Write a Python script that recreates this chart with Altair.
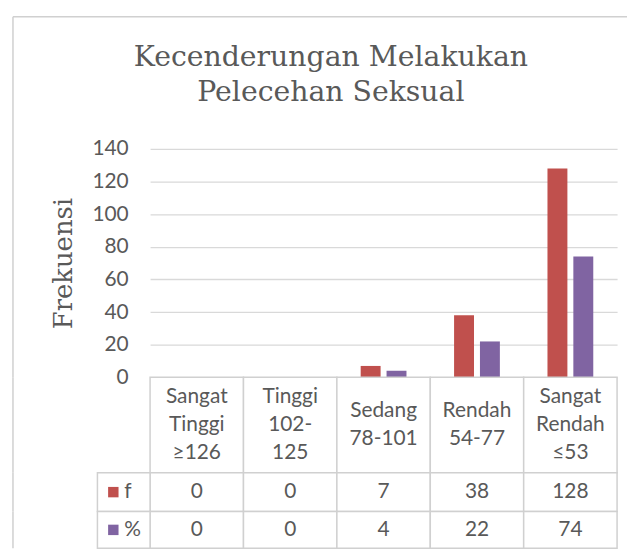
import altair as alt
import pandas as pd

# ---- data ----
categories = ["Sangat Tinggi ≥126", "Tinggi 102-125", "Sedang 78-101",
              "Rendah 54-77", "Sangat Rendah ≤53"]
header_lines = ["Sangat\nTinggi\n≥126", "Tinggi\n102-\n125", "Sedang\n78-101",
                "Rendah\n54-77", "Sangat\nRendah\n≤53"]
series = ["f", "%"]
f_values = [0, 0, 7, 38, 128]
pct_values = [0, 0, 4, 22, 74]
y_ticks = [0, 20, 40, 60, 80, 100, 120, 140]
colors = ["#C0504D", "#8064A2"]

TEXT = "#595959"
GRID = "#d9d9d9"
LINE = "#d0d0d0"
W = 470
FRAME_X = -138
LH = 28

x_scale = alt.Scale(domain=categories, paddingInner=0, paddingOuter=0)
color_scale = alt.Scale(domain=series, range=colors)

bars_df = pd.DataFrame({
    "cat": categories * 2,
    "series": [series[0]] * len(categories) + [series[1]] * len(categories),
    "value": f_values + pct_values,
})


def frame_left(h, top=0):
    return alt.Chart(pd.DataFrame({"k": [0]})).mark_rule(color=LINE, strokeWidth=1.5).encode(
        x=alt.value(FRAME_X), y=alt.value(top), y2=alt.value(h))


base = alt.Chart(bars_df)
bars = base.mark_bar().encode(
    x=alt.X("cat:N", scale=x_scale, axis=None, sort=categories),
    xOffset=alt.XOffset("series:N", sort=series,
                        scale=alt.Scale(domain=series, paddingInner=0.23, paddingOuter=0.92)),
    y=alt.Y("value:Q", scale=alt.Scale(domain=[0, 140], nice=False),
            axis=alt.Axis(values=y_ticks, grid=True, gridColor=GRID, gridWidth=1.3,
                          domain=False, ticks=False, labelFont="Lato", labelFontSize=21,
                          labelColor=TEXT, labelPadding=22, title="Frekuensi",
                          titleFont="DejaVu Serif", titleFontSize=26,
                          titleFontWeight="normal", titleColor=TEXT, titlePadding=16)),
    color=alt.Color("series:N", scale=color_scale, legend=None),
)

frame_top = alt.Chart(pd.DataFrame({"k": [0]})).mark_rule(color=LINE, strokeWidth=1.5).encode(
    x=alt.value(FRAME_X), x2=alt.value(480), y=alt.value(-133))

top = alt.layer(frame_top, frame_left(230, -133), bars).properties(
    width=W, height=230,
    title=alt.TitleParams(["Kecenderungan Melakukan", "Pelecehan Seksual"],
                          font="DejaVu Serif", fontSize=28.5, fontWeight="normal",
                          color=TEXT, anchor="middle", dx=-53, lineHeight=35, offset=-91),
)

# ---- data table ----
header_df = pd.DataFrame({
    "cat": categories,
    "label": header_lines,
    "nlines": [s.count("\n") + 1 for s in header_lines],
})
hbase = alt.Chart(header_df).encode(x=alt.X("cat:N", scale=x_scale, axis=None, sort=categories))
text_kw = dict(lineBreak="\n", lineHeight=LH, font="Lato", fontSize=21,
               color=TEXT, baseline="middle")
header = alt.layer(
    frame_left(96),
    hbase.mark_rect(fill="white", stroke=LINE, strokeWidth=1.5),
    hbase.transform_filter("datum.nlines == 3").mark_text(dy=-LH, **text_kw).encode(
        text="label:N"),
    hbase.transform_filter("datum.nlines == 2").mark_text(dy=-LH / 2, **text_kw).encode(
        text="label:N"),
).properties(width=W, height=96)


def table_row(name, values, color, h):
    df = pd.DataFrame({"cat": categories, "value": [str(v) for v in values]})
    rb = alt.Chart(df).encode(x=alt.X("cat:N", scale=x_scale, axis=None, sort=categories))
    lab = pd.DataFrame({"series": [name]})
    lb = alt.Chart(lab)
    return alt.layer(
        frame_left(h),
        rb.mark_rect(fill="white", stroke=LINE, strokeWidth=1.5),
        rb.mark_text(font="Lato", fontSize=21, color=TEXT, baseline="middle").encode(
            text="value:N"),
        lb.mark_rect(fill="white", stroke=LINE, strokeWidth=1.5).encode(
            x=alt.value(-53), x2=alt.value(0), y=alt.value(0), y2=alt.value(h)),
        lb.mark_square(size=110, opacity=1, color=color).encode(
            x=alt.value(-37), y=alt.value(h / 2)),
        lb.mark_text(font="Lato", fontSize=21, color=TEXT, align="left",
                     baseline="middle").encode(
            x=alt.value(-26), y=alt.value(h / 2), text="series:N"),
    ).properties(width=W, height=h)


row_f = table_row(series[0], f_values, colors[0], 39)
row_p = table_row(series[1], pct_values, colors[1], 37)

chart = alt.vconcat(top, header, row_f, row_p, spacing=0, bounds="flush").properties(
    padding={"left": 4, "top": 6, "right": 0, "bottom": 0}
).configure_view(stroke=None)

chart.save("out.html", embed_options={"renderer": "svg", "actions": False})
